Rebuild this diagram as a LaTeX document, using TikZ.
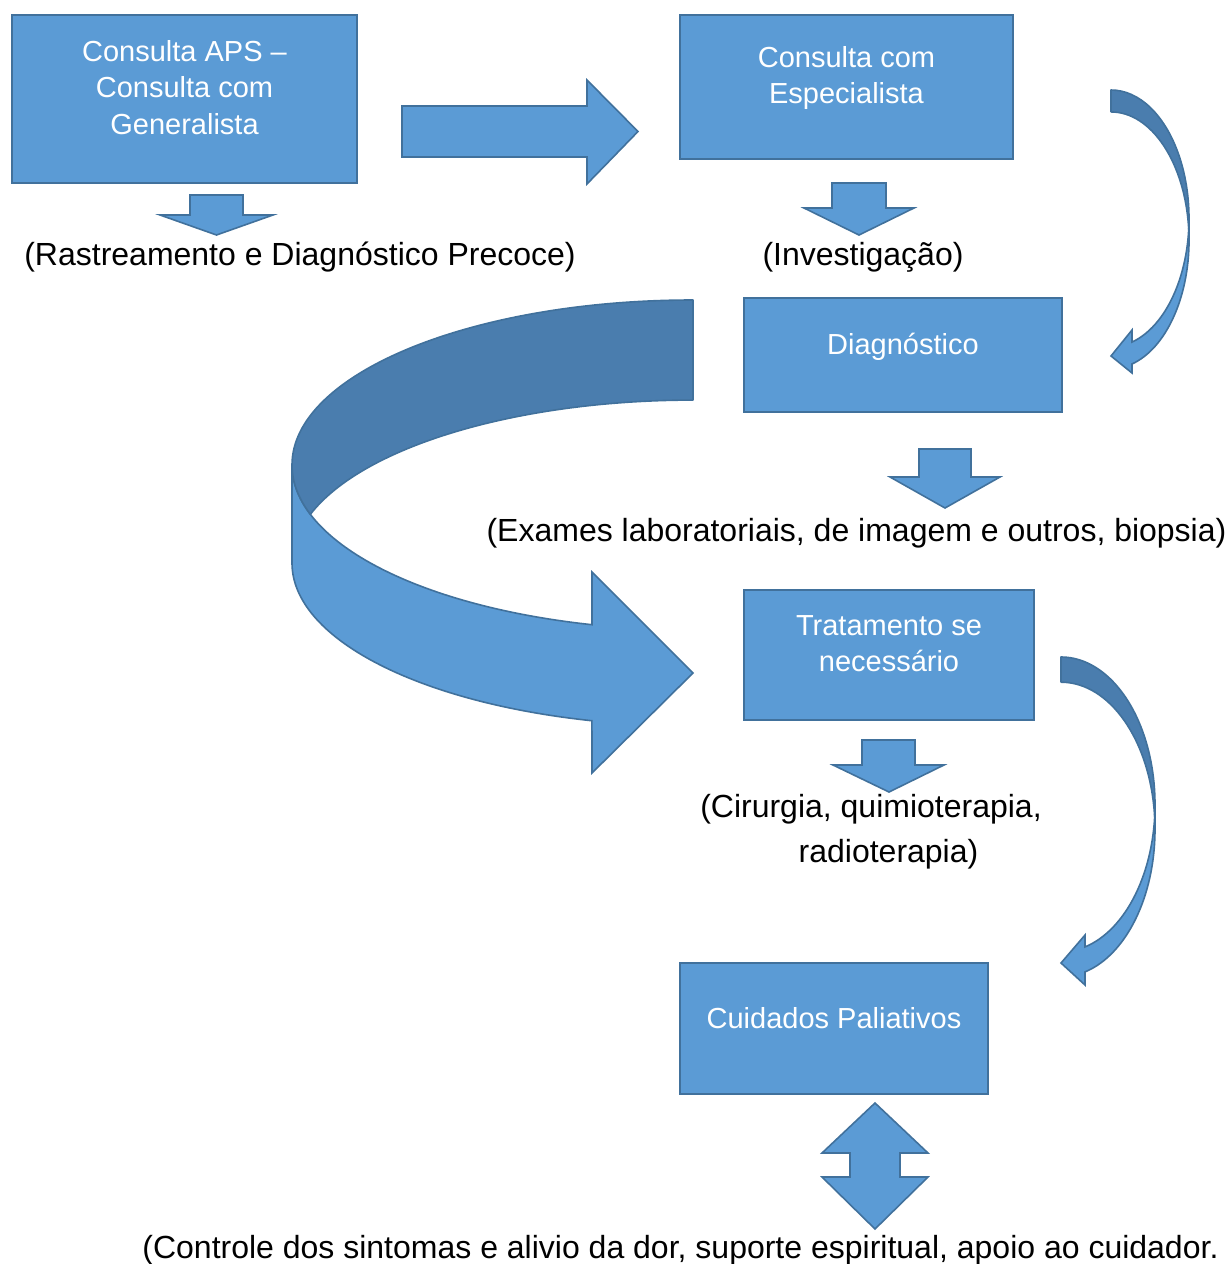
\documentclass[tikz,border=0pt]{standalone}
\usepackage{fontspec}
\setmainfont{Liberation Sans}
\definecolor{fillb}{HTML}{5B9BD5}
\definecolor{edgeb}{HTML}{41719C}
\definecolor{darkb}{HTML}{4A7DAE}
\begin{document}
\begin{tikzpicture}[x=1pt,y=-1pt,
  box/.style={draw=edgeb, fill=fillb, line width=2pt, rectangle, inner sep=0pt},
  boxtext/.style={text=white, font=\fontsize{29}{36.5}\selectfont, align=center, anchor=base, inner sep=0pt},
  caption/.style={text=black, font=\fontsize{32}{40}\selectfont, anchor=base, inner sep=0pt},
  blk/.style={draw=edgeb, fill=fillb, line width=1.6pt, line join=miter},
  blkdark/.style={draw=edgeb, fill=darkb, line width=1.6pt, line join=round}]
\useasboundingbox (0,0) rectangle (1228,1264);

% boxes
\node[box, minimum width=345pt, minimum height=168pt] (aps) at (184.5,99) {};
\node[box, minimum width=333pt, minimum height=144pt] (esp) at (846.5,87) {};
\node[box, minimum width=318pt, minimum height=114pt] (diag) at (903,355) {};
\node[box, minimum width=290pt, minimum height=130pt] (trat) at (889,655) {};
\node[box, minimum width=308pt, minimum height=131pt] (cuid) at (834,1028.5) {};

% box texts (anchor base = baseline of the last line)
\node[boxtext] (apst) at (184.5,134) {Consulta APS –\\Consulta com\\Generalista};
\node[boxtext] (espt) at (846.5,103.5) {Consulta com\\Especialista};
\node[boxtext] (diagt) at (903,354) {Diagnóstico};
\node[boxtext] (tratt) at (889,671.5) {Tratamento se\\necessário};
\node[boxtext] (cuidt) at (834,1028) {Cuidados Paliativos};

% captions
\node[caption] (rast) at (300,265) {(Rastreamento e Diagnóstico Precoce)};
\node[caption] (inv) at (863,265) {(Investigação)};
\node[caption] (exam) at (856.5,541) {(Exames laboratoriais, de imagem e outros, biopsia)};
\node[caption] (cir) at (871,817) {(Cirurgia, quimioterapia,};
\node[caption] (radio) at (888.5,862) {radioterapia)};
\node[caption] (ctrl) at (680.5,1258) {(Controle dos sintomas e alivio da dor, suporte espiritual, apoio ao cuidador.};

% straight block arrow
\draw[blk] (402,106) -- (587,106) -- (587,80) -- (638,131.5) -- (587,184) -- (587,157) -- (402,157) -- cycle;

% down block arrows
\draw[blk] (190,195) -- (243,195) -- (243,215) -- (273,215) -- (216.5,235) -- (160,215) -- (190,215) -- cycle;
\draw[blk] (832,183) -- (886,183) -- (886,208) -- (914,208) -- (859,235) -- (804,208) -- (832,208) -- cycle;
\draw[blk] (919,449) -- (971,449) -- (971,477) -- (1000,477) -- (945,508) -- (890,477) -- (919,477) -- cycle;
\draw[blk] (862,740) -- (915,740) -- (915,765) -- (944,765) -- (889,792) -- (833,765) -- (862,765) -- cycle;

% up-down block arrow
\draw[blk] (875,1103) -- (928,1153) -- (900,1153) -- (900,1177) -- (928,1177) -- (875,1229) -- (822,1177) -- (850,1177) -- (850,1153) -- (822,1153) -- cycle;

% big curved arrow (left)
\draw[blk] (292,465) -- (292,563) arc[start angle=180, end angle=104.6, x radius=401, y radius=163]
  -- (592,773) -- (693,673) -- (592,572) -- (592,624.7)
  arc[start angle=104.6, end angle=180, x radius=401, y radius=165] -- cycle;
\draw[blkdark] (693,300) arc[start angle=270, end angle=180, x radius=401, y radius=165]
  arc[start angle=180, end angle=162.6, x radius=401, y radius=165]
  arc[start angle=197.4, end angle=270, x radius=401, y radius=163] -- cycle;

% thin curved arrow (top right)
\draw[blk] (1189,218.4) arc[start angle=0, end angle=74.4, x radius=78, y radius=128.4]
  -- (1132,330) -- (1111,356) -- (1132,373) -- (1132,364.0)
  arc[start angle=74.4, end angle=0, x radius=78, y radius=128.4] -- cycle;
\draw[blkdark] (1111,90) arc[start angle=270, end angle=364.9, x radius=78, y radius=128.4]
  arc[start angle=355.1, end angle=270, x radius=78, y radius=128.4] -- cycle;

% thin curved arrow (lower right)
\draw[blk] (1155,804.4) arc[start angle=0, end angle=75.2, x radius=94, y radius=147.4]
  -- (1085,935) -- (1061,963) -- (1085,985) -- (1085,971.9)
  arc[start angle=75.2, end angle=0, x radius=94, y radius=147.4] -- cycle;
\draw[blkdark] (1061,657) arc[start angle=270, end angle=364.9, x radius=94, y radius=147.4]
  arc[start angle=355.1, end angle=270, x radius=94, y radius=147.4] -- cycle;
\end{tikzpicture}
\end{document}
